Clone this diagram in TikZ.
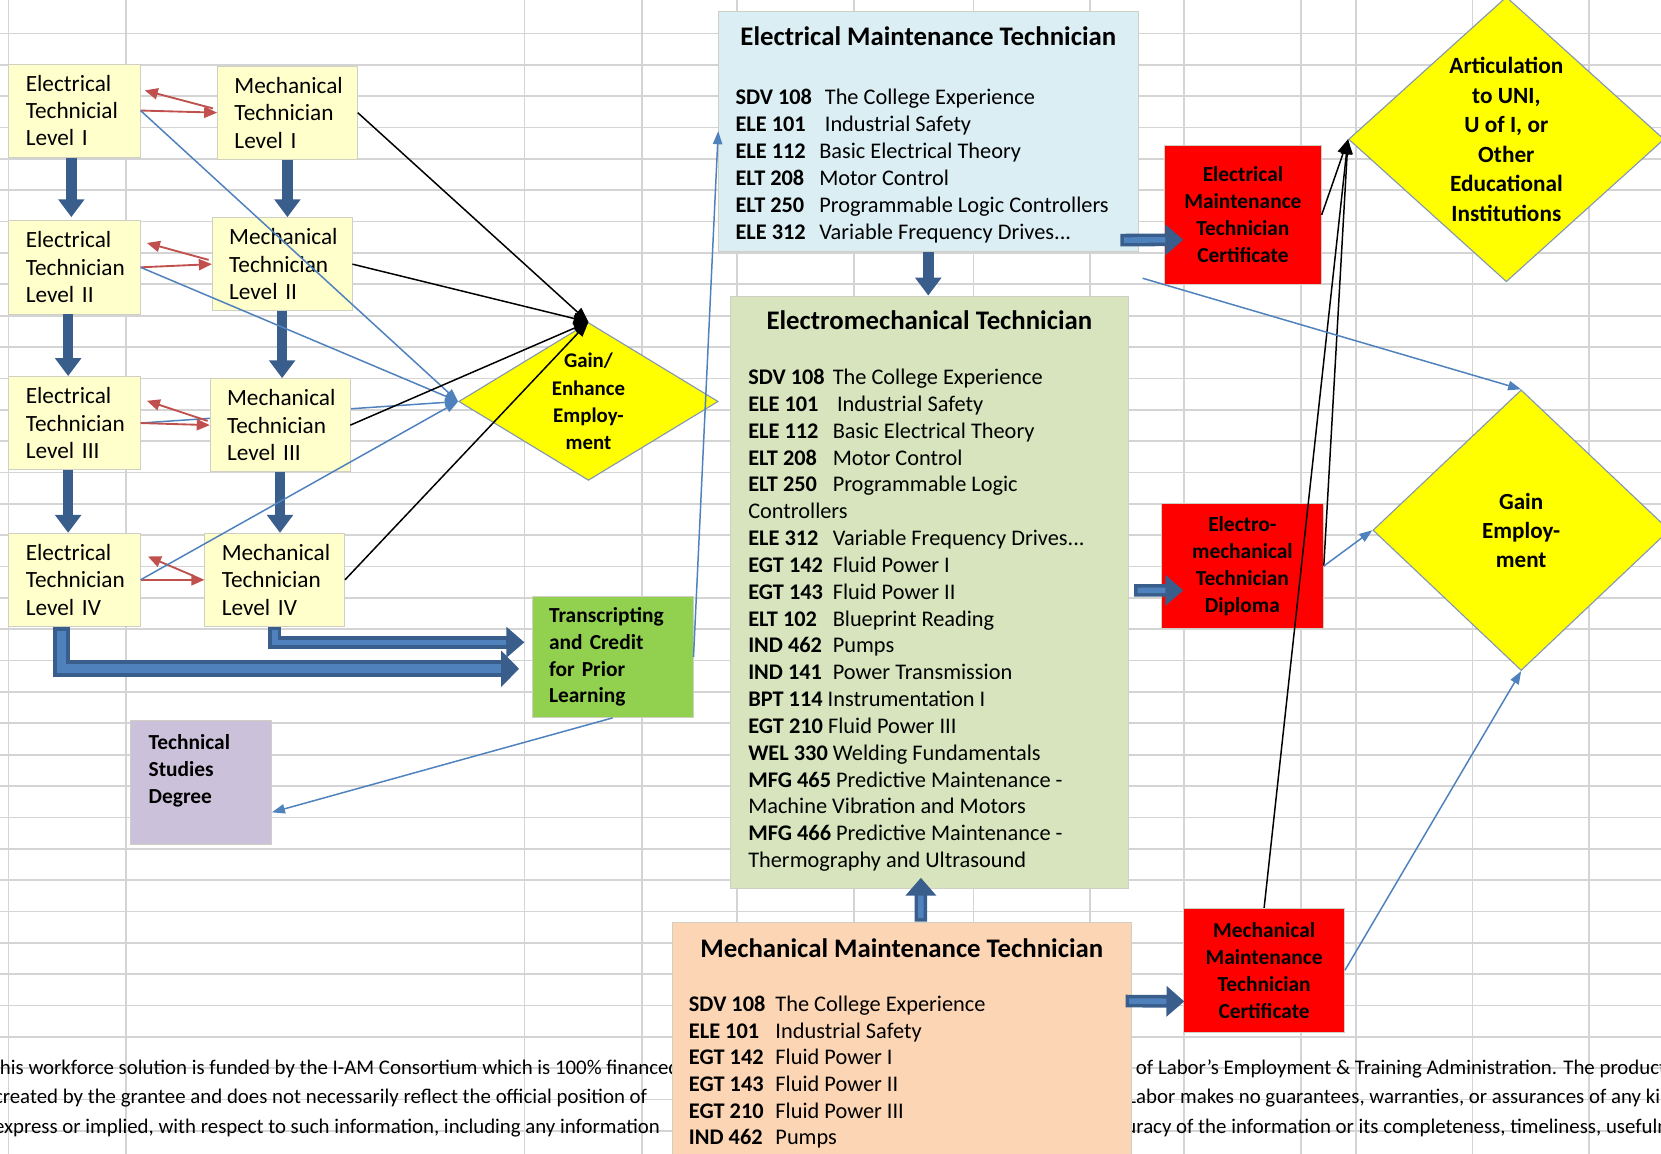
\documentclass[tikz,border=0pt]{standalone}
\usepackage{fontspec}
\setmainfont{Carlito}
\usetikzlibrary{arrows.meta,shapes.geometric,calc}

\definecolor{gridgray}{HTML}{D4D4D4}
\definecolor{boxedge}{HTML}{CFCFC4}
\definecolor{lvlyellow}{HTML}{FFFFCC}
\definecolor{emtblue}{HTML}{DAEEF3}
\definecolor{emgreen}{HTML}{D7E4BD}
\definecolor{mmtorange}{HTML}{FCD5B5}
\definecolor{tcpgreen}{HTML}{92D050}
\definecolor{tsdlilac}{HTML}{CCC1DA}
\definecolor{certred}{HTML}{FF0000}
\definecolor{dmdyellow}{HTML}{FFFF00}
\definecolor{dmdedge}{HTML}{8497B0}
\definecolor{arrowdk}{HTML}{3A5E8C}
\definecolor{arrowlt}{HTML}{4F81BD}
\definecolor{lineblue}{HTML}{4F81BD}
\definecolor{linered}{HTML}{C0504D}

\pgfdeclarelayer{grid}
\pgfdeclarelayer{behind}
\pgfsetlayers{grid,behind,main}

\newcommand{\setfs}[2]{\fontsize{#1}{#2}\selectfont}
\newlength{\codew}
\newcommand{\course}[2]{\makebox[\codew][l]{\textbf{#1}}#2}
\newcommand{\blockarrow}[2][fat]{%
  \draw[#1 out] #2;
  \draw[#1 in] #2;}

\tikzset{
  gridline/.style={draw=gridgray, line width=0.9pt},
  lvlbox/.style={draw=boxedge, fill=lvlyellow, anchor=north west, minimum height=1.76cm,
    inner xsep=0.32cm, inner ysep=0pt, align=left, font=\setfs{12.5}{14.7}},
  ebox/.style={lvlbox, text width=1.84cm},
  mbox/.style={lvlbox, text width=2.0cm},
  crsbox/.style={draw=boxedge, anchor=north west, inner sep=0pt},
  crstitle/.style={inner sep=0pt, font=\bfseries\setfs{14.4}{17}},
  crslist/.style={anchor=north west, inner sep=0pt, align=left, font=\setfs{12}{14.5}},
  certbox/.style={draw=boxedge, fill=certred, anchor=north west, inner sep=0pt,
    align=center, font=\bfseries\setfs{11.5}{14.5}},
  dmd/.style={diamond, draw=dmdedge, line width=0.6pt, fill=dmdyellow, inner sep=0pt, align=center},
  sidebox/.style={draw=boxedge, anchor=north west, inner sep=0pt},
  sidetext/.style={anchor=north west, inner sep=0pt, align=left, font=\bfseries\setfs{11.5}{14.6}},
  foot/.style={anchor=base west, inner sep=0pt, font=\setfs{11.2}{12}},
  fatv/.style={draw=arrowdk, line width=5.7pt, -{Triangle[length=9.6pt,width=13.6pt]}},
  fat out/.style={draw=arrowdk, line width=6.8pt, line join=miter, -{Triangle[length=9.6pt,width=16pt]}},
  fat in/.style={draw=arrowlt, line width=3pt, line join=miter, shorten >=9.6pt, shorten <=1.9pt},
  big out/.style={draw=arrowdk, line width=9pt, line join=miter, -{Triangle[length=9.6pt,width=19pt]}},
  big in/.style={draw=arrowlt, line width=5pt, line join=miter, shorten >=9.6pt, shorten <=2pt},
  redarr/.style={draw=linered, line width=1pt, -{Triangle[length=7pt,width=6pt]}},
  bluearr/.style={draw=lineblue, line width=0.8pt, -{Triangle[length=7pt,width=5pt]}},
  blkarr/.style={draw=black, line width=0.8pt, -{Triangle[length=8pt,width=6pt]}},
}

\begin{document}
\begin{tikzpicture}[x=0.02cm, y=-0.02cm]
  \useasboundingbox (0,0) rectangle (1568,1089);
  \clip (0,0) rectangle (1568,1089);

  % spreadsheet grid
  \begin{pgfonlayer}{grid}
    \foreach \gx in {8,119,495,606,696,806,919,1029,1118,1228,1280,1390,1500}
      \draw[gridline] (\gx,0) -- (\gx,1089);
    \foreach \k in {0,...,35}
      \draw[gridline] (0,{31.6+29.6*\k}) -- (1568,{31.6+29.6*\k});
  \end{pgfonlayer}

  % disclaimer text (partly hidden by the orange box)
  \node[foot] (ft1l) at (-10,1014) {This workforce solution is funded by the I-AM Consortium which is 100\% financed};
  \node[foot] (ft1r) at (1072,1014) {of Labor’s Employment \& Training Administration. The product was};
  \node[foot] (ft2l) at (-6,1042) {created by the grantee and does not necessarily reflect the official position of};
  \node[foot] (ft2r) at (1064,1042) {Labor makes no guarantees, warranties, or assurances of any kind,};
  \node[foot] (ft3l) at (-6,1070) {express or implied, with respect to such information, including any information};
  \node[foot] (ft3r) at (1036,1070) {accuracy of the information or its completeness, timeliness, usefulness,};
  \node[foot] (ft4l) at (-3,1105) {lness, adequacy, continued availability, or ownership.};

  % technician levels
  \node[ebox] (et1) at (8,60) {Electrical\\Technicial\\Level I};
  \node[ebox] (et2) at (8,208) {Electrical\\Technician\\Level II};
  \node[ebox] (et3) at (8,355) {Electrical\\Technician\\Level III};
  \node[ebox] (et4) at (8,503) {Electrical\\Technician\\Level IV};
  \node[mbox] (mt1) at (205,62) {Mechanical\\Technician\\Level I};
  \node[mbox] (mt2) at (200,205) {Mechanical\\Technician\\Level II};
  \node[mbox] (mt3) at (198,357) {Mechanical\\Technician\\Level III};
  \node[mbox] (mt4) at (193,503) {Mechanical\\Technician\\Level IV};

  \node[dmd, shape aspect=1.64, minimum width=4.9cm, minimum height=2.98cm,
    font=\bfseries\setfs{11.2}{14.7}] (ge) at (555.5,379) {Gain/\\Enhance\\Employ-\\ment};

  \node[sidebox, fill=tcpgreen, minimum width=3.04cm, minimum height=2.28cm, text width=2.4cm,
    inner xsep=0.32cm, align=left, font=\bfseries\setfs{11.5}{14.3}] (tcp) at (502,563)
    {Transcripting\\and Credit\\for Prior\\Learning};
  \node[sidebox, fill=tsdlilac, minimum width=2.66cm, minimum height=2.34cm] (tsd) at (123,680) {};
  \node[sidetext] (tsdtext) at ($(tsd.north west)+(17,13)$) {Technical\\Studies\\Degree};

  % programme boxes
  \node[crsbox, fill=emtblue, minimum width=7.92cm, minimum height=4.54cm] (emt) at (678,10) {};
  \node[crstitle] (emttitle) at ($(emt.north)+(0,24)$) {Electrical Maintenance Technician};
  \setlength{\codew}{45pt}
  \node[crslist] (emtlist) at ($(emt.north west)+(16,74)$) {%
    \course{SDV 108}{\hspace{3pt}The College Experience}\\
    \course{ELE 101}{\hspace{3pt}Industrial Safety}\\
    \course{ELE 112}{Basic Electrical Theory}\\
    \course{ELT 208}{Motor Control}\\
    \course{ELT 250}{Programmable Logic Controllers}\\
    \course{ELE 312}{Variable Frequency Drives...}};

  \node[crsbox, fill=emgreen, minimum width=7.52cm, minimum height=11.18cm] (em) at (689,279) {};
  \node[crstitle] (emtitle) at ($(em.north)+(0,23)$) {Electromechanical Technician};
  \setlength{\codew}{45.4pt}
  \node[crslist, font=\setfs{12}{14.42}] (emlist) at ($(em.north west)+(17,69)$) {%
    \course{SDV 108}{The College Experience}\\
    \course{ELE 101}{\hspace{2.3pt}Industrial Safety}\\
    \course{ELE 112}{Basic Electrical Theory}\\
    \course{ELT 208}{Motor Control}\\
    \course{ELT 250}{Programmable Logic}\\
    Controllers\\
    \course{ELE 312}{Variable Frequency Drives...}\\
    \course{EGT 142}{Fluid Power I}\\
    \course{EGT 143}{Fluid Power II}\\
    \course{ELT 102}{Blueprint Reading}\\
    \course{IND 462}{Pumps}\\
    \course{IND 141}{Power Transmission}\\
    \textbf{BPT 114} Instrumentation I\\
    \textbf{EGT 210} Fluid Power III\\
    \textbf{WEL 330} Welding Fundamentals\\
    \textbf{MFG 465} Predictive Maintenance -\\
    Machine Vibration and Motors\\
    \textbf{MFG 466} Predictive Maintenance -\\
    Thermography and Ultrasound};

  \node[crsbox, fill=mmtorange, minimum width=8.68cm, minimum height=4.8cm] (mmt) at (634,870) {};
  \node[crstitle] (mmttitle) at ($(mmt.north)+(0,25)$) {Mechanical Maintenance Technician};
  \setlength{\codew}{46.5pt}
  \node[crslist, font=\setfs{12}{14.3}] (mmtlist) at ($(mmt.north west)+(16,70)$) {%
    \course{SDV 108}{The College Experience}\\
    \course{ELE 101}{Industrial Safety}\\
    \course{EGT 142}{Fluid Power I}\\
    \course{EGT 143}{Fluid Power II}\\
    \course{EGT 210}{Fluid Power III}\\
    \course{IND 462}{Pumps}};

  % awards and outcomes
  \node[certbox, minimum width=2.96cm, minimum height=2.62cm] (emc) at (1099,137)
    {Electrical\\Maintenance\\Technician\\Certificate};
  \node[certbox, minimum width=3.06cm, minimum height=2.36cm] (dip) at (1096,475)
    {Electro-\\mechanical\\Technician\\Diploma};
  \node[certbox, minimum width=3.04cm, minimum height=2.34cm] (mmc) at (1117,857)
    {Mechanical\\Maintenance\\Technician\\Certificate};
  \node[dmd, minimum width=5.96cm, minimum height=5.38cm, font=\bfseries\setfs{12.5}{15.9}] (art)
    at (1422,131.5) {Articulation\\to UNI,\\U of I, or\\Other\\Educational\\Institutions};
  \node[dmd, minimum width=5.6cm, minimum height=5.3cm, font=\bfseries\setfs{12.4}{15.6}] (gemp)
    at (1436,500.5) {Gain\\Employ-\\ment};

  % level to level
  \draw[fatv] ($(et1.south)+(-3,0)$) -- ($(et2.north)+(-3,-3)$);
  \draw[fatv] ($(et2.south)+(-6,0)$) -- ($(et3.north)+(-6,0)$);
  \draw[fatv] ($(et3.south)+(-6,0)$) -- ($(et4.north)+(-6,0)$);
  \draw[fatv] (mt1.south) -- (mt1.south |- mt2.north);
  \draw[fatv] (mt2.south) -- (mt2.south |- mt3.north);
  \draw[fatv] (mt3.south) -- (mt3.south |- mt4.north);
  \blockarrow[big]{($(et4.south)+(-12,0)$) |- ($(tcp.west)+(-12,11)$)}
  \blockarrow{(mt4.south) |- ($(tcp.west)+(-7,-14)$)}

  % programme to programme and award
  \draw[fatv] (emt.south) -- (emt.south |- em.north);
  \blockarrow{($(emt.south east)+(-17,-11)$) -- ($(emc.west)+(18,23.5)$)}
  \blockarrow{($(em.east)+(5,-1.5)$) -- ($(dip.west)+(21,23)$)}
  \blockarrow{($(mmt.north)+(18,0)$) -- ($(em.south)+(-8,-10)$)}
  \blockarrow{($(mmt.north east)+(-6,75)$) -- ($(mmc.west)+(1,29.5)$)}

  % crossing between tracks
  \draw[redarr] (et1.east) -- (mt1.west);
  \draw[redarr] ($(mt1.west)+(-4,-4)$) -- ($(et1.east)+(4,-19)$);
  \draw[redarr] (et2.east) -- (mt2.west);
  \draw[redarr] ($(mt2.west)+(-3,-4)$) -- ($(et2.east)+(6,-23)$);
  \draw[redarr] (et3.east) -- (mt3.west);
  \draw[redarr] ($(mt3.west)+(-2,-4)$) -- ($(et3.east)+(6,-21)$);
  \draw[redarr] (et4.east) -- (mt4.west);
  \draw[redarr] ($(mt4.west)+(-11,-4)$) -- ($(et4.east)+(7,-22)$);

  % into gain/enhance employment
  \draw[bluearr] (et1.east) -- (ge.west);
  \draw[bluearr] (et2.east) -- (ge.west);
  \begin{pgfonlayer}{behind}
    \draw[bluearr] (et3.east) -- (ge.west);
  \end{pgfonlayer}
  \draw[bluearr] (et4.east) -- (ge.west);
  \foreach \m in {mt1,mt2,mt3,mt4}
    \draw[blkarr] (\m.east) -- (ge.north);

  \draw[bluearr] (tcp.east) -- (emt.west);
  \draw[bluearr] (tcp.south) -- ($(tsd.east)+(0,28)$);

  % outcomes
  \draw[blkarr] (emc.east) -- (art.west);
  \draw[blkarr] (dip.east) -- (art.west);
  \draw[blkarr] (mmc.north) -- (art.west);
  \draw[bluearr] ($(emt.south east)+(4,25)$) -- (gemp.north);
  \draw[bluearr] (dip.east) -- (gemp.west);
  \draw[bluearr] (mmc.east) -- (gemp.south);
\end{tikzpicture}
\end{document}
